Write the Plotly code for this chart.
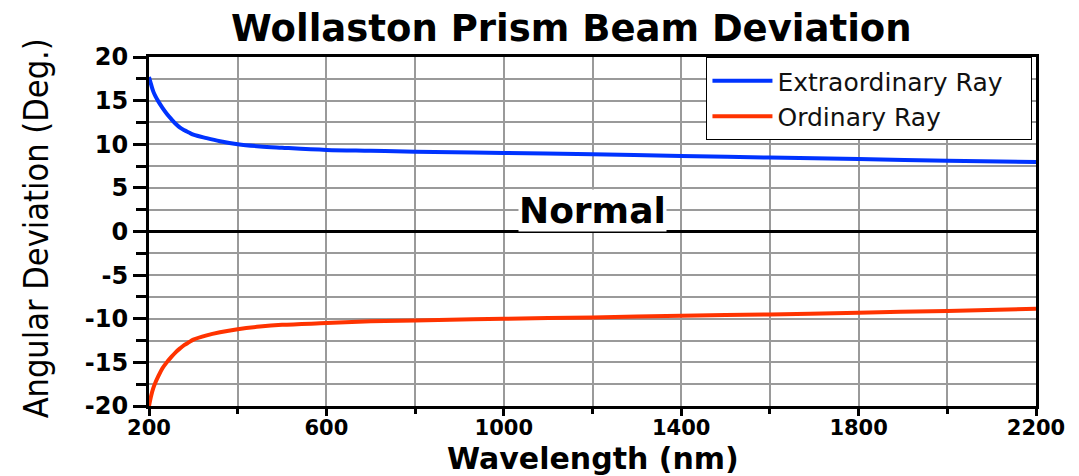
import plotly.graph_objects as go

wavelength = [200, 205, 210, 215, 220, 230, 240, 250, 260, 270, 280, 290, 300, 330, 360, 400,
              450, 500, 600, 700, 800, 1000, 1200, 1400, 1600, 1800, 2000, 2200]
extraordinary = [17.7, 16.8, 16.0, 15.45, 15.0, 14.2, 13.5, 12.9, 12.35, 11.9, 11.6, 11.35,
                 11.1, 10.7, 10.35, 10.0, 9.75, 9.6, 9.35, 9.25, 9.15, 9.0, 8.85, 8.65,
                 8.47, 8.3, 8.12, 7.97]
ordinary = [-20.0, -18.8, -17.9, -17.25, -16.7, -15.7, -15.0, -14.4, -13.85, -13.4, -13.0,
            -12.7, -12.4, -11.9, -11.55, -11.2, -10.9, -10.7, -10.5, -10.3, -10.2, -10.0,
            -9.85, -9.65, -9.5, -9.3, -9.1, -8.85]

series_names = ["Extraordinary Ray", "Ordinary Ray"]
series_colors = ["#0033FF", "#FF3300"]

x_tickvals = [200, 600, 1000, 1400, 1800, 2200]
y_tickvals = [-20, -15, -10, -5, 0, 5, 10, 15, 20]

BOLD = "DejaVu Sans"

fig = go.Figure()
for name, vals, col in zip(series_names, [extraordinary, ordinary], series_colors):
    fig.add_trace(go.Scatter(x=wavelength, y=vals, mode="lines",
                             name=name + "&nbsp;&nbsp;&nbsp;",
                             line=dict(color=col, width=4, shape="spline", smoothing=1.0)))

fig.add_annotation(x=1200, y=0, xref="x", yref="y", text="<b>Normal</b>", showarrow=False,
                   yanchor="bottom", xanchor="center", bgcolor="white", borderpad=0,
                   font=dict(family=BOLD, size=36, color="black"))

# axis titles
fig.add_annotation(x=0.5, y=-0.2035, xref="paper", yref="paper", text="<b>Wavelength (nm)</b>",
                   showarrow=False, xanchor="center", yanchor="bottom", borderpad=0,
                   font=dict(family=BOLD, size=30, color="black"))
fig.add_annotation(x=-0.127, y=0.51, xref="paper", yref="paper", text="Angular Deviation (Deg.)",
                   showarrow=False, xanchor="center", yanchor="middle", textangle=-90,
                   font=dict(family="Liberation Sans Narrow, DejaVu Sans Condensed", size=34,
                             color="black"))

# page body has an 8px margin, so the figure is sized/offset to compensate
fig.update_layout(
    width=1071, height=468,
    margin=dict(l=141, r=43, t=49, b=70),
    paper_bgcolor="white", plot_bgcolor="white",
    title=dict(text="<b>Wollaston Prism Beam Deviation</b>", x=0.526, xref="container",
               xanchor="center", y=0.958, yref="container", yanchor="middle",
               font=dict(family=BOLD, size=37, color="black")),
    showlegend=True,
    legend=dict(x=0.996, y=1.0, xanchor="right", yanchor="top", bgcolor="white",
                bordercolor="black", borderwidth=1, tracegroupgap=0,
                font=dict(family="DejaVu Sans", size=25, color="#111"),
                itemwidth=60),
)

fig.update_xaxes(
    range=[200, 2200], tickvals=x_tickvals, ticktext=[f"<b>{v}</b>" for v in x_tickvals],
    showline=True, linecolor="black", linewidth=3, mirror=True,
    ticks="outside", ticklen=7, tickwidth=3, tickcolor="black",
    showgrid=True, gridcolor="#9a9a9a", gridwidth=2,
    minor=dict(dtick=200, tick0=200, showgrid=True, gridcolor="#9a9a9a", gridwidth=2,
               ticks="outside", ticklen=5, tickwidth=3, tickcolor="black"),
    tickfont=dict(family=BOLD, size=21, color="black"),
    ticklabelstandoff=-6,
    automargin=False,
    zeroline=False,
)
fig.update_yaxes(
    range=[-20, 20], tickvals=y_tickvals, ticktext=[f"<b>{v}</b>" for v in y_tickvals],
    showline=True, linecolor="black", linewidth=3, mirror=True,
    ticks="outside", ticklen=13, tickwidth=3, tickcolor="black",
    showgrid=True, gridcolor="#9a9a9a", gridwidth=2,
    minor=dict(dtick=2.5, tick0=0, showgrid=True, gridcolor="#9a9a9a", gridwidth=2,
               ticks="outside", ticklen=10, tickwidth=3, tickcolor="black"),
    tickfont=dict(family=BOLD, size=24, color="black"),
    automargin=False,
    zeroline=True, zerolinecolor="black", zerolinewidth=3,
)

fig.write_html("out.html")
